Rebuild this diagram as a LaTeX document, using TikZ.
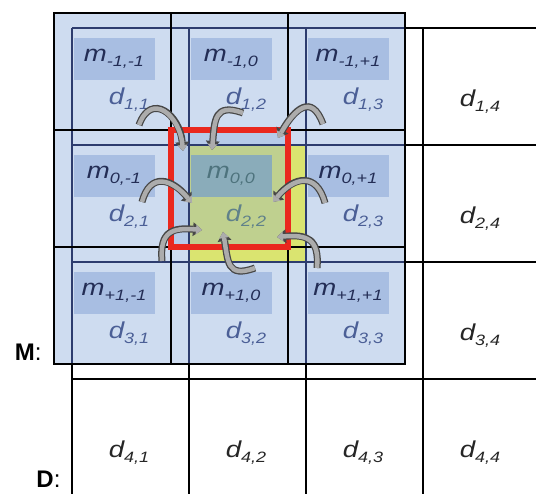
\documentclass[tikz,border=0pt]{standalone}
\usepackage{fontspec}
\setmainfont{Liberation Sans}
\newfontfamily\lblfont[FakeStretch=1.2]{Liberation Sans}
\usepackage{tikz}
\usetikzlibrary{arrows.meta}

\definecolor{mfill}{RGB}{206,220,240}
\definecolor{mbox}{RGB}{168,190,226}
\definecolor{mboxc}{RGB}{138,172,186}
\definecolor{dyellow}{RGB}{218,228,112}
\definecolor{cshade}{RGB}{130,165,215}
\definecolor{mtext}{RGB}{35,45,85}
\definecolor{dtext}{RGB}{75,95,150}
\definecolor{ctext}{RGB}{78,115,125}
\definecolor{navyline}{RGB}{45,60,110}
\definecolor{redbox}{RGB}{234,40,30}

% letter with a lowered index
\newcommand{\lbl}[2]{{\lblfont\itshape\fontsize{23}{25}\selectfont #1\raisebox{-5pt}{\fontsize{15}{15}\selectfont #2}}}

\begin{document}
\begin{tikzpicture}[
    x=1pt, y=1pt,
    dline/.style={line width=2pt},
    inline/.style={navyline, line width=1.5pt},
    mline/.style={line width=2pt},
    mlabel/.style={fill=mbox, text=mtext, minimum width=81pt, minimum height=42pt, inner sep=0pt},
    dlabel/.style={text=dtext, inner sep=0pt},
    flow/.style={draw=gray!65, line width=4.5pt, -{Triangle[width=10pt,length=6pt,line width=0pt]},
        preaction={draw=black!72, line width=7pt, -{Triangle[width=14pt,length=9pt,line width=0pt]}}}
]
\useasboundingbox (0,0) rectangle (536,494);

% D grid
\foreach \x in {72,189,306,423}
    \draw[dline] (\x,466) -- (\x,-10);
\foreach \y in {466,349,232,115}
    \draw[dline] (72,\y) -- (545,\y);

% M window
\fill[mfill] (54,481) rectangle (405,130);
\foreach \r/\c/\t in {1/1/{-1,-1},1/2/{-1,0},1/3/{-1,+1},2/1/{0,-1},2/3/{0,+1},3/1/{+1,-1},3/2/{+1,0},3/3/{+1,+1}}
    \node[mlabel] (m\r\c) at ({72+117*(\c-1)+42},{466-117*(\r-1)-31}) {\lbl{m}{\t}};
\fill[dyellow] (189,349) rectangle (306,232);
\fill[cshade, opacity=0.3] (171,364) rectangle (288,247);
\node[mlabel, fill=mboxc, text=ctext] (m22) at (231,318) {\lbl{m}{0,0}};

% D lines seen through M
\begin{scope}
    \clip (54,481) rectangle (405,130);
    \foreach \x in {72,189,306}
        \draw[inline] (\x,466) -- (\x,120);
    \foreach \y in {466,349,232}
        \draw[inline] (72,\y) -- (410,\y);
\end{scope}

% M grid
\draw[mline] (54,481) rectangle (405,130);
\foreach \x in {171,288}
    \draw[mline] (\x,481) -- (\x,130);
\foreach \y in {364,247}
    \draw[mline] (54,\y) -- (405,\y);
\draw[redbox, line width=6pt] (171,364) rectangle (288,247);

% d labels
\foreach \r/\c in {1/1,1/2,1/3,2/1,2/3,3/1,3/2,3/3}
    \node[dlabel] (d\r\c) at ({72+117*(\c-1)+57},{466-117*(\r-1)-72}) {\lbl{d}{\r,\c}};
\node[dlabel, text=ctext!90] (d22) at (246,277) {\lbl{d}{2,2}};
\foreach \r/\c in {1/4,2/4,3/4,4/1,4/2,4/3,4/4}
    \node[dlabel, text=black!85] (d\r\c) at ({72+117*(\c-1)+57},{466-117*(\r-1)-74}) {\lbl{d}{\r,\c}};

\node[anchor=east, font=\fontsize{24}{26}\selectfont] (mtag) at (45,142) {\textbf{M}:};
\node[anchor=south east, inner ysep=0pt, font=\fontsize{24}{26}\selectfont] (dtag) at (64,6) {\textbf{D}:};

% moves into the centre cell
\foreach \i/\tx/\ty/\hx/\hy/\o/\n/\l in {
    1/139/369/183/343/70/95/1.8,
    2/243/381/212/344/160/85/1.6,
    3/323/370/278/356/110/60/1.8,
    4/142/292/192/291/75/130/1.6,
    5/325/291/273/292/105/50/1.6,
    6/162/233/202/264/95/175/1.5,
    7/317/226/277/257/85/5/1.5,
    8/255/226/223/262/200/-80/1.6} {
    \coordinate (t\i) at (\tx,\ty);
    \coordinate (h\i) at (\hx,\hy);
    \draw[flow] (t\i) to[out=\o, in=\n, looseness=\l] (h\i);
}
\end{tikzpicture}
\end{document}
